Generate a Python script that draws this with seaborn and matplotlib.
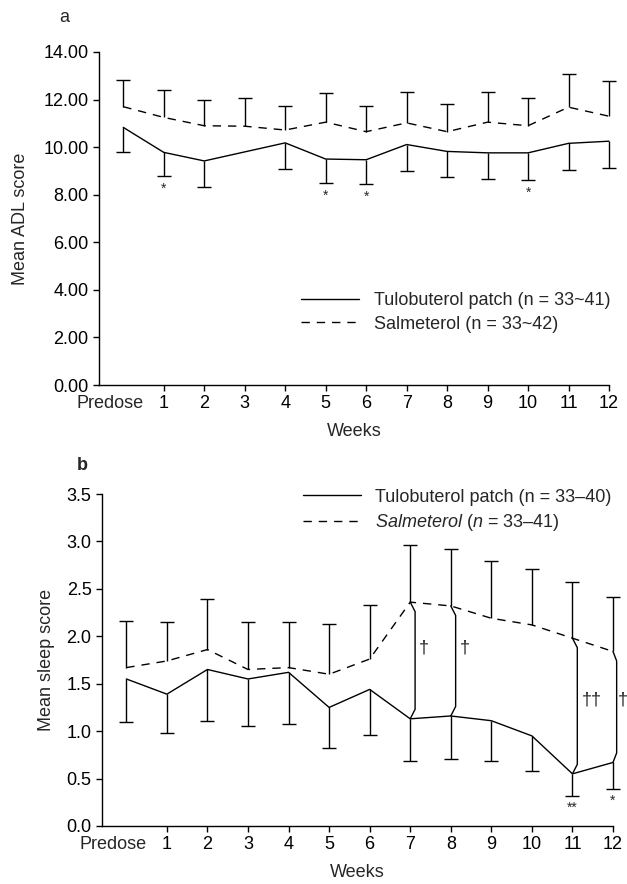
import numpy as np
import pandas as pd
import matplotlib
matplotlib.use("Agg")
import matplotlib.pyplot as plt
import seaborn as sns

# week positions (0 = predose)
weeks = list(range(13))
week_labels = ["Predose"] + [str(w) for w in range(1, 13)]

# panel a: mean ADL score
adl_tulo_mean = [10.83, 9.78, 9.42, 9.80, 10.18, 9.50, 9.47, 10.11, 9.82, 9.76, 9.76, 10.16, 10.25]
adl_tulo_low = [9.80, 8.78, 8.33, np.nan, 9.10, 8.50, 8.44, 9.00, 8.75, 8.64, 8.61, 9.05, 9.14]
adl_salm_mean = [11.70, 11.25, 10.90, 10.88, 10.72, 11.05, 10.65, 11.02, 10.65, 11.05, 10.90, 11.68, 11.30]
adl_salm_high = [12.83, 12.40, 11.98, 12.05, 11.75, 12.27, 11.75, 12.30, 11.83, 12.30, 12.08, 13.08, 12.76]
adl_star_weeks = [1, 5, 6, 10]

# panel b: mean sleep score
sleep_tulo_mean = [1.55, 1.39, 1.65, 1.55, 1.62, 1.25, 1.44, 1.13, 1.16, 1.11, 0.95, 0.55, 0.67]
sleep_tulo_low = [1.10, 0.98, 1.11, 1.05, 1.08, 0.82, 0.96, 0.68, 0.71, 0.68, 0.58, 0.32, 0.39]
sleep_salm_mean = [1.67, 1.74, 1.86, 1.65, 1.67, 1.60, 1.76, 2.36, 2.32, 2.19, 2.12, 1.98, 1.84]
sleep_salm_high = [2.16, 2.15, 2.39, 2.15, 2.15, 2.13, 2.33, 2.96, 2.92, 2.79, 2.71, 2.57, 2.41]
sleep_stars = {11: "**", 12: "*"}
sleep_daggers = {7: "†", 8: "†", 11: "††", 12: "†"}

sns.set_style("ticks")
plt.rcParams["font.family"] = ["Liberation Sans", "DejaVu Sans"]
plt.rcParams["mathtext.fontset"] = "custom"
plt.rcParams["mathtext.it"] = "Liberation Sans:italic"
plt.rcParams["mathtext.rm"] = "Liberation Sans"
plt.rcParams["font.size"] = 13

FS = 13

fig = plt.figure(figsize=(6.27, 8.84), dpi=100)
ax1 = fig.add_axes([99 / 627, 1 - 385 / 884, 510 / 627, 333 / 884])
ax2 = fig.add_axes([102 / 627, 1 - 826 / 884, 511 / 627, 332 / 884])


def draw_panel(ax, tulo_mean, tulo_low, salm_mean, salm_high, tulo_name, salm_name):
    df = pd.DataFrame({
        "week": weeks * 2,
        "score": list(tulo_mean) + list(salm_mean),
        "group": [tulo_name] * 13 + [salm_name] * 13,
    })
    sns.lineplot(data=df, x="week", y="score", style="group", color="black",
                 dashes={tulo_name: "", salm_name: (6, 5)}, linewidth=1.0,
                 ax=ax, clip_on=False)

    tm = np.array(tulo_mean)
    tl = np.array(tulo_low)
    ok = ~np.isnan(tl)
    x = np.array(weeks)
    eb = ax.errorbar(x[ok], tm[ok], yerr=[tm[ok] - tl[ok], np.zeros(ok.sum())],
                     fmt="none", ecolor="black", elinewidth=1.0, capsize=5,
                     capthick=1.0, clip_on=False)
    eb[1][1].set_visible(False)

    sm = np.array(salm_mean)
    sh = np.array(salm_high)
    eb = ax.errorbar(x, sm, yerr=[np.zeros(13), sh - sm],
                     fmt="none", ecolor="black", elinewidth=1.0, capsize=5,
                     capthick=1.0, clip_on=False)
    eb[1][0].set_visible(False)

    ax.set_xlim(-0.6, 12)
    ax.set_xticks(weeks[1:])
    ax.set_xticklabels(week_labels[1:])
    # predose label sits a little left of its point, without a tick mark
    ax.annotate(week_labels[0], xy=(-0.33, 0), xycoords=("data", "axes fraction"),
                xytext=(0, -7.5), textcoords="offset points",
                ha="center", va="top", fontsize=FS, annotation_clip=False)
    ax.tick_params(direction="out", length=4, width=1, labelsize=FS, colors="black")
    ax.set_xlabel("Weeks", fontsize=FS)
    ax.xaxis.set_label_coords(0.5, -0.115)
    for s in ["top", "right"]:
        ax.spines[s].set_visible(False)
    for s in ["left", "bottom"]:
        ax.spines[s].set_linewidth(1.0)
        ax.spines[s].set_color("black")


draw_panel(ax1, adl_tulo_mean, adl_tulo_low, adl_salm_mean, adl_salm_high,
           "Tulobuterol patch (n = 33~41)", "Salmeterol (n = 33~42)")
draw_panel(ax2, sleep_tulo_mean, sleep_tulo_low, sleep_salm_mean, sleep_salm_high,
           "Tulobuterol patch (n = 33–40)", r"$\it{Salmeterol}$ ($\it{n}$ = 33–41)")

# panel a axes
ax1.set_ylim(0, 14)
ax1.set_yticks(np.arange(0, 15, 2))
ax1.set_yticklabels([f"{v:.2f}" for v in np.arange(0, 15, 2)])
ax1.set_ylabel("Mean ADL score", fontsize=FS)
ax1.yaxis.set_label_coords(-0.137, 0.5)
for w in adl_star_weeks:
    ax1.text(w, adl_tulo_low[w] - 0.25, "*", ha="center", va="top", fontsize=10)

# panel b axes
ax2.set_ylim(0, 3.5)
ax2.set_yticks(np.arange(0, 3.51, 0.5))
ax2.set_yticklabels([f"{v:.1f}" for v in np.arange(0, 3.51, 0.5)])
ax2.set_ylabel("Mean sleep score", fontsize=FS)
ax2.yaxis.set_label_coords(-0.091, 0.5)
for w, s in sleep_stars.items():
    ax2.text(w, sleep_tulo_low[w] - 0.05, s, ha="center", va="top", fontsize=10)

# significance brackets between the two curves
for w, s in sleep_daggers.items():
    off = 0.12 if w < 12 else 0.09
    top = sleep_salm_mean[w]
    bot = sleep_tulo_mean[w]
    ax2.plot([w, w + off, w + off, w], [top, top - 0.1, bot + 0.1, bot],
             color="black", linewidth=1.0, clip_on=False)
    yt = 1.88 if w < 10 else 1.33
    pad = 0.1 if w < 12 else 0.03
    ax2.text(w + off + pad, yt, s, ha="left", va="center", fontsize=13, clip_on=False)

# legends
ax1.legend(loc="center left", bbox_to_anchor=(0.397, 0.218), frameon=False,
           handlelength=3.2, handletextpad=0.8, labelspacing=0.35,
           borderpad=0, borderaxespad=0, fontsize=FS)
ax2.legend(loc="center left", bbox_to_anchor=(0.393, 0.949), frameon=False,
           handlelength=3.2, handletextpad=0.8, labelspacing=0.35,
           borderpad=0, borderaxespad=0, fontsize=FS)

fig.text(64 / 627, 1 - 17 / 884, "a", ha="center", va="center", fontsize=FS)
fig.text(82 / 627, 1 - 465 / 884, "b", ha="center", va="center", fontsize=FS, fontweight="bold")

fig.savefig("out.png", dpi=100)
